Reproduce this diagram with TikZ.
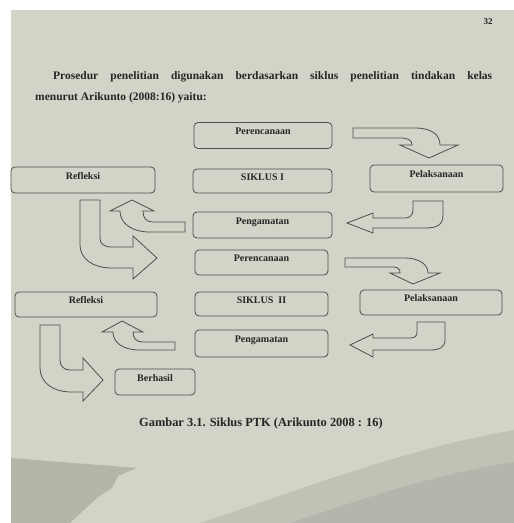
\documentclass[tikz,border=0pt]{standalone}
\usepackage{fontspec}
\setmainfont{Liberation Serif}
\definecolor{kertas}{HTML}{D1D4C7}
\definecolor{bayang}{HTML}{9FA296}
\definecolor{garis}{HTML}{4E4F4B}
\definecolor{tinta}{HTML}{262626}
\begin{document}
\begin{tikzpicture}[x=1pt,y=-1pt,
  kotak/.style={draw=garis,line width=.8pt,rounded corners=4pt,inner sep=0pt,text height=6pt,text depth=8pt,font=\fontsize{10}{12}\bfseries\selectfont,text=tinta},
  panah/.style={draw=garis,fill=kertas,line width=.8pt,line join=miter},
  teks/.style={inner sep=0pt,text=tinta,font=\fontsize{11.5}{13}\bfseries\selectfont}]
\useasboundingbox (0,0) rectangle (514,523);
% halaman
\fill[white] (0,0) rectangle (514,523);
\fill[kertas] (11,10) rectangle (514,523);
\fill[bayang,opacity=.6] (11,458) -- (137,468) -- (118,476) -- (112,488) -- (98,497) -- (70,523) -- (11,523) -- cycle;
\fill[bayang,opacity=.35] (200,523) .. controls (300,490) and (400,450) .. (514,430) -- (514,523) -- cycle;
\fill[bayang,opacity=.35] (290,523) .. controls (360,500) and (430,475) .. (514,462) -- (514,523) -- cycle;
\node[teks,font=\fontsize{9}{11}\bfseries\selectfont,anchor=base] (hal) at (488,24) {32};
\node[teks,anchor=base west] (par1) at (53,79) {\makebox[439pt][s]{Prosedur penelitian digunakan berdasarkan siklus penelitian tindakan kelas}};
\node[teks,anchor=base west] (par2) at (35,100) {menurut Arikunto (2008:16) yaitu:};
% siklus I
\node[kotak,minimum width=138pt,minimum height=26pt] (per1) at (263,135.5) {Perencanaan};
\node[kotak,minimum width=139pt,minimum height=24pt] (sik1) at (262.5,181) {SIKLUS I};
\node[kotak,minimum width=133pt,minimum height=27pt] (pel1) at (436.5,178.5) {Pelaksanaan};
\node[kotak,minimum width=144pt,minimum height=26pt] (ref1) at (83,180) {Refleksi};
\node[kotak,minimum width=139pt,minimum height=26pt] (peng1) at (262.5,225) {Pengamatan};
% siklus II
\node[kotak,minimum width=133pt,minimum height=25pt] (per2) at (261.5,262.5) {Perencanaan};
\node[kotak,minimum width=133pt,minimum height=24pt] (sik2) at (261.5,304) {SIKLUS\ \ II};
\node[kotak,minimum width=142pt,minimum height=25pt] (pel2) at (431,302.5) {Pelaksanaan};
\node[kotak,minimum width=142pt,minimum height=25pt] (ref2) at (86,304.5) {Refleksi};
\node[kotak,minimum width=133pt,minimum height=27pt] (peng2) at (261.5,343.5) {Pengamatan};
\node[kotak,minimum width=80pt,minimum height=26pt] (hasil) at (155,382) {Berhasil};
% panah blok
\draw[panah] (353,128) -- (415,128) .. controls (432,128) and (440,135) .. (440,145) -- (458,145) -- (429,158) -- (400,145) -- (412,145) .. controls (412,140) and (408,138) .. (400,138) -- (353,138) -- cycle;
\draw[panah] (413,201) -- (443,201) -- (443,215) .. controls (443,225) and (437,228) .. (425,228) -- (373,228) -- (373,233) -- (347,223) -- (373,213) -- (373,218) -- (405,218) .. controls (410,218) and (413,215) .. (413,210) -- cycle;
\draw[panah] (185,222) -- (185,232) -- (150,232) .. controls (130,232) and (120,222) .. (120,211) -- (110,211) -- (132,200) -- (154,211) -- (143,211) .. controls (143,218) and (146,222) .. (153,222) -- cycle;
\draw[panah] (80,200) -- (100,200) -- (100,238) .. controls (100,244) and (104,247) .. (112,247) -- (133,247) -- (133,236) -- (157,258) -- (133,279) -- (133,268) -- (112,268) .. controls (92,268) and (80,258) .. (80,245) -- cycle;
\draw[panah] (345,258) -- (405,258) .. controls (420,258) and (428,265) .. (428,273) -- (440,273) -- (413,284) -- (390,273) -- (400,273) .. controls (400,269) and (398,267) .. (393,267) -- (345,267) -- cycle;
\draw[panah] (417,322) -- (445,322) -- (445,340) .. controls (445,347) and (440,350) .. (430,350) -- (373,350) -- (373,357) -- (350,345) -- (373,334) -- (373,338) -- (410,338) .. controls (415,338) and (417,336) .. (417,332) -- cycle;
\draw[panah] (175,342) -- (175,350) -- (140,350) .. controls (122,350) and (113,342) .. (113,332) -- (102,332) -- (122,321) -- (143,332) -- (133,332) .. controls (133,338) and (136,342) .. (143,342) -- cycle;
\draw[panah] (40,325) -- (60,325) -- (60,360) .. controls (60,366) and (64,370) .. (70,370) -- (83,370) -- (83,358) -- (103,380) -- (83,401) -- (83,392) -- (72,392) .. controls (52,392) and (40,382) .. (40,368) -- cycle;
\node[teks,font=\fontsize{12.4}{14}\bfseries\selectfont,anchor=base west] (judul) at (139,426) {Gambar 3.1. Siklus PTK (Arikunto 2008 : 16)};
\end{tikzpicture}
\end{document}
